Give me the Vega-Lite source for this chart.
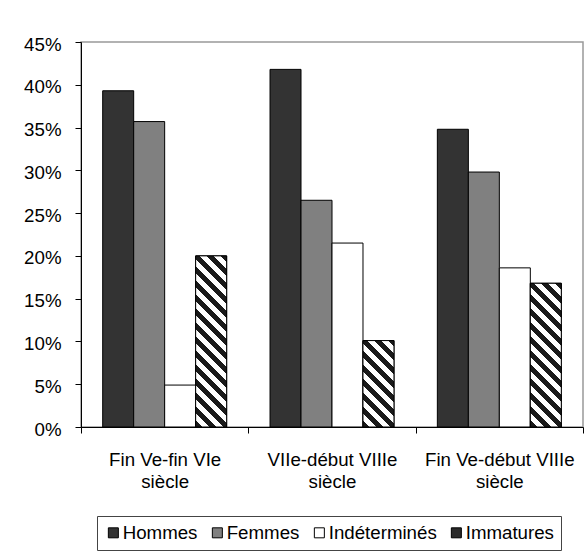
{
  "$schema": "https://vega.github.io/schema/vega-lite/v6.json",
  "width": 502,
  "height": 385,
  "autosize": {"type": "none"},
  "padding": {"left": 81, "top": 42, "right": 4, "bottom": 124},
  "background": "white",
  "config": {
    "font": "Liberation Sans",
    "view": {"stroke": "#999999", "strokeWidth": 1.5},
    "axis": {"labelFont": "Liberation Sans", "labelFontSize": 18.7, "labelColor": "black", "domainColor": "black", "tickColor": "black", "grid": false, "title": null}
  },
  "data": {
    "values": [
      {"period": "Fin Ve-fin VIe siècle", "type": "Hommes", "value": 39.3},
      {"period": "Fin Ve-fin VIe siècle", "type": "Femmes", "value": 35.7},
      {"period": "Fin Ve-fin VIe siècle", "type": "Indéterminés", "value": 4.9},
      {"period": "Fin Ve-fin VIe siècle", "type": "Immatures", "value": 20.0},
      {"period": "VIIe-début VIIIe siècle", "type": "Hommes", "value": 41.8},
      {"period": "VIIe-début VIIIe siècle", "type": "Femmes", "value": 26.5},
      {"period": "VIIe-début VIIIe siècle", "type": "Indéterminés", "value": 21.5},
      {"period": "VIIe-début VIIIe siècle", "type": "Immatures", "value": 10.1},
      {"period": "Fin Ve-début VIIIe siècle", "type": "Hommes", "value": 34.8},
      {"period": "Fin Ve-début VIIIe siècle", "type": "Femmes", "value": 29.8},
      {"period": "Fin Ve-début VIIIe siècle", "type": "Indéterminés", "value": 18.6},
      {"period": "Fin Ve-début VIIIe siècle", "type": "Immatures", "value": 16.8}
    ]
  },
  "encoding": {
    "x": {
      "field": "period", "type": "nominal",
      "sort": ["Fin Ve-fin VIe siècle", "VIIe-début VIIIe siècle", "Fin Ve-début VIIIe siècle"],
      "scale": {"paddingInner": 0, "paddingOuter": 0},
      "axis": {"labelAngle": 0, "tickBand": "extent", "tickSize": 6, "labelPadding": 17, "labelLineHeight": 22, "labelBaseline": "top", "labelExpr": "datum.label ? [replace(datum.label, ' siècle', ''), 'siècle'] : ''", "labelLimit": 200}
    },
    "xOffset": {
      "field": "type", "type": "nominal",
      "sort": ["Hommes", "Femmes", "Indéterminés", "Immatures"],
      "scale": {"domain": ["Hommes", "Femmes", "Indéterminés", "Immatures"], "paddingInner": 0, "paddingOuter": 0.7}
    },
    "y": {
      "field": "value", "type": "quantitative",
      "scale": {"domain": [0, 45], "nice": false},
      "axis": {"values": [0, 5, 10, 15, 20, 25, 30, 35, 40, 45], "labelExpr": "datum.value + '%'", "tickSize": 6, "labelPadding": 14, "labelOffset": 2}
    }
  },
  "layer": [
    {
      "mark": {"type": "bar", "strokeWidth": 1},
      "encoding": {
        "fill": {
          "field": "type", "type": "nominal",
          "sort": ["Hommes", "Femmes", "Indéterminés", "Immatures"],
          "scale": {"domain": ["Hommes", "Femmes", "Indéterminés", "Immatures"], "range": ["#333333", "#808080", "#ffffff", "#2a2a2a"]},
          "legend": {
            "orient": "none", "legendX": 16, "legendY": 474, "direction": "horizontal", "title": null,
            "symbolType": "square", "symbolSize": 100, "symbolStrokeWidth": 1, "symbolOpacity": 1,
            "labelFont": "Liberation Sans", "labelFontSize": 18.7, "labelColor": "black", "labelOffset": 0, "labelLimit": 300,
            "columnPadding": 10, "padding": 7, "strokeColor": "#444444", "fillColor": "white"
          }
        },
        "stroke": {
          "field": "type", "type": "nominal",
          "sort": ["Hommes", "Femmes", "Indéterminés", "Immatures"],
          "scale": {"domain": ["Hommes", "Femmes", "Indéterminés", "Immatures"], "range": ["#000000", "#000000", "#000000", "#000000"]},
          "legend": {
            "orient": "none", "legendX": 16, "legendY": 474, "direction": "horizontal", "title": null,
            "symbolType": "square", "symbolSize": 100, "symbolStrokeWidth": 1, "symbolOpacity": 1,
            "labelFont": "Liberation Sans", "labelFontSize": 18.7, "labelColor": "black", "labelOffset": 0, "labelLimit": 300,
            "columnPadding": 10, "padding": 7, "strokeColor": "#444444", "fillColor": "white"
          }
        }
      }
    },
    {
      "transform": [{"filter": "datum.type === 'Immatures'"}],
      "mark": {"type": "bar", "stroke": "black", "strokeWidth": 1},
      "encoding": {
        "fill": {
          "condition": [
            {"test": "datum.period === 'VIIe-début VIIIe siècle'", "value": {"gradient": "linear", "x1": 0, "y1": 1, "x2": 0.4319, "y2": -0.2037, "stops": [
              {"offset": 0, "color": "#1a1a1a"}, {"offset": 0.0596, "color": "#1a1a1a"}, {"offset": 0.0596, "color": "#ffffff"}, {"offset": 0.1193, "color": "#ffffff"},
              {"offset": 0.1193, "color": "#1a1a1a"}, {"offset": 0.1789, "color": "#1a1a1a"}, {"offset": 0.1789, "color": "#ffffff"}, {"offset": 0.2385, "color": "#ffffff"},
              {"offset": 0.2385, "color": "#1a1a1a"}, {"offset": 0.2981, "color": "#1a1a1a"}, {"offset": 0.2981, "color": "#ffffff"}, {"offset": 0.3578, "color": "#ffffff"},
              {"offset": 0.3578, "color": "#1a1a1a"}, {"offset": 0.4174, "color": "#1a1a1a"}, {"offset": 0.4174, "color": "#ffffff"}, {"offset": 0.4770, "color": "#ffffff"},
              {"offset": 0.4770, "color": "#1a1a1a"}, {"offset": 0.5366, "color": "#1a1a1a"}, {"offset": 0.5366, "color": "#ffffff"}, {"offset": 0.5963, "color": "#ffffff"},
              {"offset": 0.5963, "color": "#1a1a1a"}, {"offset": 0.6559, "color": "#1a1a1a"}, {"offset": 0.6559, "color": "#ffffff"}, {"offset": 0.7155, "color": "#ffffff"},
              {"offset": 0.7155, "color": "#1a1a1a"}, {"offset": 0.7751, "color": "#1a1a1a"}, {"offset": 0.7751, "color": "#ffffff"}, {"offset": 0.8348, "color": "#ffffff"},
              {"offset": 0.8348, "color": "#1a1a1a"}, {"offset": 0.8944, "color": "#1a1a1a"}, {"offset": 0.8944, "color": "#ffffff"}, {"offset": 0.9540, "color": "#ffffff"},
              {"offset": 0.9540, "color": "#1a1a1a"}, {"offset": 1, "color": "#1a1a1a"}
            ]}},
            {"test": "datum.period === 'Fin Ve-début VIIIe siècle'", "value": {"gradient": "linear", "x1": 0, "y1": 1, "x2": 0.2506, "y2": -0.1617, "stops": [
              {"offset": 0, "color": "#1a1a1a"}, {"offset": 0.0401, "color": "#1a1a1a"}, {"offset": 0.0401, "color": "#ffffff"}, {"offset": 0.0801, "color": "#ffffff"},
              {"offset": 0.0801, "color": "#1a1a1a"}, {"offset": 0.1202, "color": "#1a1a1a"}, {"offset": 0.1202, "color": "#ffffff"}, {"offset": 0.1603, "color": "#ffffff"},
              {"offset": 0.1603, "color": "#1a1a1a"}, {"offset": 0.2003, "color": "#1a1a1a"}, {"offset": 0.2003, "color": "#ffffff"}, {"offset": 0.2404, "color": "#ffffff"},
              {"offset": 0.2404, "color": "#1a1a1a"}, {"offset": 0.2805, "color": "#1a1a1a"}, {"offset": 0.2805, "color": "#ffffff"}, {"offset": 0.3205, "color": "#ffffff"},
              {"offset": 0.3205, "color": "#1a1a1a"}, {"offset": 0.3606, "color": "#1a1a1a"}, {"offset": 0.3606, "color": "#ffffff"}, {"offset": 0.4007, "color": "#ffffff"},
              {"offset": 0.4007, "color": "#1a1a1a"}, {"offset": 0.4408, "color": "#1a1a1a"}, {"offset": 0.4408, "color": "#ffffff"}, {"offset": 0.4808, "color": "#ffffff"},
              {"offset": 0.4808, "color": "#1a1a1a"}, {"offset": 0.5209, "color": "#1a1a1a"}, {"offset": 0.5209, "color": "#ffffff"}, {"offset": 0.5610, "color": "#ffffff"},
              {"offset": 0.5610, "color": "#1a1a1a"}, {"offset": 0.6010, "color": "#1a1a1a"}, {"offset": 0.6010, "color": "#ffffff"}, {"offset": 0.6411, "color": "#ffffff"},
              {"offset": 0.6411, "color": "#1a1a1a"}, {"offset": 0.6812, "color": "#1a1a1a"}, {"offset": 0.6812, "color": "#ffffff"}, {"offset": 0.7212, "color": "#ffffff"},
              {"offset": 0.7212, "color": "#1a1a1a"}, {"offset": 0.7613, "color": "#1a1a1a"}, {"offset": 0.7613, "color": "#ffffff"}, {"offset": 0.8014, "color": "#ffffff"},
              {"offset": 0.8014, "color": "#1a1a1a"}, {"offset": 0.8414, "color": "#1a1a1a"}, {"offset": 0.8414, "color": "#ffffff"}, {"offset": 0.8815, "color": "#ffffff"},
              {"offset": 0.8815, "color": "#1a1a1a"}, {"offset": 0.9216, "color": "#1a1a1a"}, {"offset": 0.9216, "color": "#ffffff"}, {"offset": 0.9617, "color": "#ffffff"},
              {"offset": 0.9617, "color": "#1a1a1a"}, {"offset": 1, "color": "#1a1a1a"}
            ]}}
          ],
          "value": {"gradient": "linear", "x1": 0, "y1": 1, "x2": 0.2072, "y2": -0.1437, "stops": [
            {"offset": 0, "color": "#1a1a1a"}, {"offset": 0.0346, "color": "#1a1a1a"}, {"offset": 0.0346, "color": "#ffffff"}, {"offset": 0.0693, "color": "#ffffff"},
            {"offset": 0.0693, "color": "#1a1a1a"}, {"offset": 0.1039, "color": "#1a1a1a"}, {"offset": 0.1039, "color": "#ffffff"}, {"offset": 0.1385, "color": "#ffffff"},
            {"offset": 0.1385, "color": "#1a1a1a"}, {"offset": 0.1732, "color": "#1a1a1a"}, {"offset": 0.1732, "color": "#ffffff"}, {"offset": 0.2078, "color": "#ffffff"},
            {"offset": 0.2078, "color": "#1a1a1a"}, {"offset": 0.2425, "color": "#1a1a1a"}, {"offset": 0.2425, "color": "#ffffff"}, {"offset": 0.2771, "color": "#ffffff"},
            {"offset": 0.2771, "color": "#1a1a1a"}, {"offset": 0.3117, "color": "#1a1a1a"}, {"offset": 0.3117, "color": "#ffffff"}, {"offset": 0.3464, "color": "#ffffff"},
            {"offset": 0.3464, "color": "#1a1a1a"}, {"offset": 0.3810, "color": "#1a1a1a"}, {"offset": 0.3810, "color": "#ffffff"}, {"offset": 0.4156, "color": "#ffffff"},
            {"offset": 0.4156, "color": "#1a1a1a"}, {"offset": 0.4503, "color": "#1a1a1a"}, {"offset": 0.4503, "color": "#ffffff"}, {"offset": 0.4849, "color": "#ffffff"},
            {"offset": 0.4849, "color": "#1a1a1a"}, {"offset": 0.5195, "color": "#1a1a1a"}, {"offset": 0.5195, "color": "#ffffff"}, {"offset": 0.5542, "color": "#ffffff"},
            {"offset": 0.5542, "color": "#1a1a1a"}, {"offset": 0.5888, "color": "#1a1a1a"}, {"offset": 0.5888, "color": "#ffffff"}, {"offset": 0.6234, "color": "#ffffff"},
            {"offset": 0.6234, "color": "#1a1a1a"}, {"offset": 0.6581, "color": "#1a1a1a"}, {"offset": 0.6581, "color": "#ffffff"}, {"offset": 0.6927, "color": "#ffffff"},
            {"offset": 0.6927, "color": "#1a1a1a"}, {"offset": 0.7274, "color": "#1a1a1a"}, {"offset": 0.7274, "color": "#ffffff"}, {"offset": 0.7620, "color": "#ffffff"},
            {"offset": 0.7620, "color": "#1a1a1a"}, {"offset": 0.7966, "color": "#1a1a1a"}, {"offset": 0.7966, "color": "#ffffff"}, {"offset": 0.8313, "color": "#ffffff"},
            {"offset": 0.8313, "color": "#1a1a1a"}, {"offset": 0.8659, "color": "#1a1a1a"}, {"offset": 0.8659, "color": "#ffffff"}, {"offset": 0.9005, "color": "#ffffff"},
            {"offset": 0.9005, "color": "#1a1a1a"}, {"offset": 0.9352, "color": "#1a1a1a"}, {"offset": 0.9352, "color": "#ffffff"}, {"offset": 0.9698, "color": "#ffffff"},
            {"offset": 0.9698, "color": "#1a1a1a"}, {"offset": 1, "color": "#1a1a1a"}
          ]}
        }
      }
    }
  ]
}
